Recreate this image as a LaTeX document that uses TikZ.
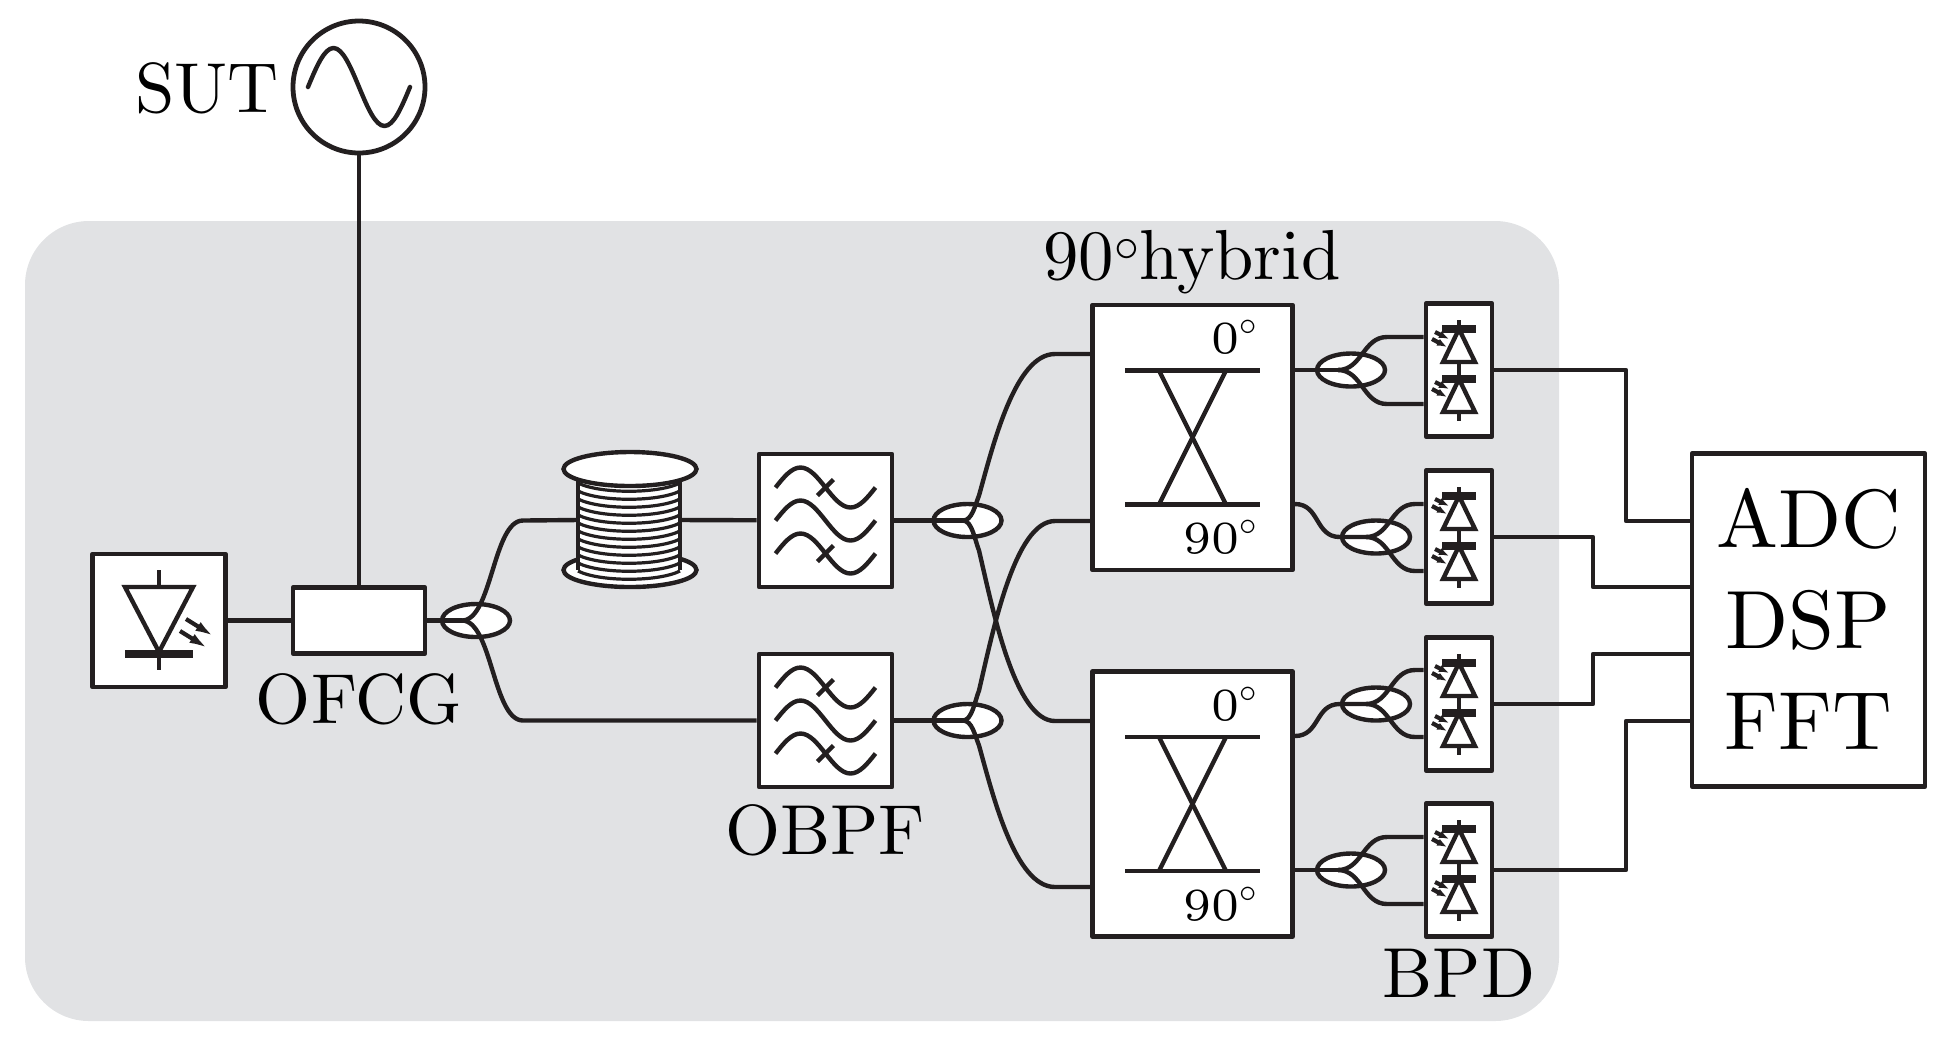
\documentclass[tikz,border=0pt]{standalone}
\usetikzlibrary{shapes.geometric,arrows.meta}
\definecolor{panelgray}{HTML}{E1E2E4}
\definecolor{ink}{HTML}{231F20}
\font\lblfont=cmr10 at 35.4pt
\font\smallfont=cmr6 at 23pt
\font\dspfont=cmr10 at 41.3pt
\newcommand{\sinecurve}{(-1,0) .. controls (-.837,-.512) and (-.681,-1) .. (-.5,-1) .. controls (-.319,-1) and (-.163,-.512) .. (0,0) .. controls (.163,.512) and (.319,1) .. (.5,1) .. controls (.681,1) and (.837,.512) .. (1,0)}
\tikzset{
  wire/.style={draw=ink,line width=2.2pt,line join=round},
  boxnode/.style={draw=ink,fill=white,line width=2.4pt,inner sep=0pt,line join=round},
  splitnode/.style={draw=ink,fill=white,line width=2.2pt,ellipse,inner sep=0pt,minimum width=34pt,minimum height=16.5pt},
  lbl/.style={text=black,inner sep=0pt,font=\fontsize{35.4}{40}\selectfont\lblfont},
  smalllbl/.style={text=black,inner sep=0pt,font=\fontsize{23}{26}\selectfont\smallfont},
  beam/.style={draw=ink,line width=2.1pt},
  pics/filterwaves/.style={code={
    \foreach \yy in {-33,0,33}{
      \draw[wire,shift={(0,\yy)},xscale=50,yscale=20] \sinecurve;
    }
    \draw[wire] (-8,-25) -- (8,-41);
    \draw[wire] (-8,41) -- (8,25);
  }},
  pics/bpddiode/.style={code={
    \draw[wire,fill=white,line join=miter] (0,0) -- (16,33) -- (-16,33) -- cycle;
    \fill[ink] (-17,-4) rectangle (17,4);
    \draw[beam,-{Latex[length=5pt,width=3.8pt]}] (-24,3) -- (-10,10);
    \draw[beam,-{Latex[length=5pt,width=3.8pt]}] (-27,10) -- (-12,18);
  }},
}
\begin{document}
\begin{tikzpicture}[x=0.5pt,y=-0.5pt]
\useasboundingbox (0,0) rectangle (1946,1046);
\fill[panelgray,rounded corners=32pt] (25,221) rectangle (1559,1021);

% --- nodes
\node[boxnode,circle,minimum size=66pt] (sut) at (359,87) {};
\draw[wire,line cap=round,shift={(359,87)},xscale=51,yscale=39] \sinecurve;
\node[lbl] (sutlabel) at (207,88) {SUT};

\node[boxnode,minimum width=66.5pt,minimum height=66.5pt] (laser) at (159,620.5) {};
\node[boxnode,minimum width=66pt,minimum height=33pt] (ofcg) at (359,620.5) {};
\node[lbl] (ofcglabel) at (359,699) {OFCG};
\node[splitnode] (s0) at (476,620.5) {};
\coordinate (j0) at (462,620.5);

% spool
\node[inner sep=0pt,minimum width=51pt,minimum height=50pt] (spool) at (629,520) {};
\node[splitnode,minimum width=66.5pt,minimum height=17pt] (spoolbottom) at (630,570) {};

\node[boxnode,minimum width=66.5pt,minimum height=66.5pt] (f1) at (825.5,520.5) {};
\node[boxnode,minimum width=66.5pt,minimum height=66.5pt] (f2) at (825.5,720.5) {};
\node[lbl] (obpflabel) at (825,830) {OBPF};
\node[splitnode] (s1) at (967.5,520.5) {};
\node[splitnode] (s2) at (967.5,720.5) {};
\coordinate (j1) at (963,520.5);
\coordinate (j2) at (963,720.5);

\node[boxnode,minimum width=100pt,minimum height=132.5pt] (h1) at (1192.5,437.5) {};
\node[boxnode,minimum width=100pt,minimum height=132.5pt] (h2) at (1192.5,804) {};
\node[lbl] (hyblabel) at (1192,262) {90$^\circ$hybrid};
\node[smalllbl,anchor=east] (h1a) at (1258,337) {0$^\circ$};
\node[smalllbl,anchor=east] (h1b) at (1258,537) {90$^\circ$};
\node[smalllbl,anchor=east] (h2a) at (1258,704) {0$^\circ$};
\node[smalllbl,anchor=east] (h2b) at (1258,904) {90$^\circ$};

\node[boxnode,minimum width=33pt,minimum height=66.5pt] (b1) at (1459,370) {};
\node[boxnode,minimum width=33pt,minimum height=66.5pt] (b2) at (1459,537) {};
\node[boxnode,minimum width=33pt,minimum height=66.5pt] (b3) at (1459,704) {};
\node[boxnode,minimum width=33pt,minimum height=66.5pt] (b4) at (1459,870) {};
\node[lbl] (bpdlabel) at (1459,973) {BPD};

\node[splitnode] (o1) at (1351,370) {};
\node[splitnode] (o2) at (1376,537) {};
\node[splitnode] (o3) at (1376,704) {};
\node[splitnode] (o4) at (1351,870) {};
\coordinate (k1) at (1338,370);
\coordinate (k2) at (1366,537);
\coordinate (k3) at (1366,704);
\coordinate (k4) at (1338,870);

\node[boxnode,minimum width=116.5pt,minimum height=166.5pt,align=center,font=\fontsize{41.3}{50.5}\selectfont\dspfont,text=black] (dsp) at (1808.5,620) {ADC\\DSP\\FFT};

% --- laser symbol
\draw[wire] (159,570) -- (159,670);
\draw[wire,fill=white,line join=miter] (125,587) -- (193,587) -- (159,652) -- cycle;
\fill[ink] (125,650) rectangle (193,658);
\foreach \dx/\dy in {0/0,-6/12}{
  \draw[beam,shift={(186+\dx,619+\dy)},-{Latex[length=10pt,width=5pt]}] (0,0) -- (29,18);
}

% --- spool body
\fill[white] (578,469) rectangle (680,570) .. controls (680,585) and (578,585) .. (578,570);
\foreach \yy in {483,491,...,571}{
  \draw[ink,line width=1.6pt] (578,\yy) .. controls (600,\yy+11) and (658,\yy+11) .. (680,\yy);
}
\draw[wire] (578,469) -- (578,570);
\draw[wire] (680,469) -- (680,570);
\node[splitnode,minimum width=66.5pt,minimum height=17pt] (spooltop) at (630,469) {};

% --- filter and detector symbols
\pic at (f1) {filterwaves};
\pic at (f2) {filterwaves};
\foreach \cy in {370,537,704,870}{
  \draw[wire] (1459,\cy-50) -- (1459,\cy+51);
  \pic at (1459,\cy-41) {bpddiode};
  \pic at (1459,\cy+9) {bpddiode};
}

% --- hybrid symbols
\foreach \cy in {437.5,804}{
  \draw[wire] (1125,\cy-67) -- (1260,\cy-67);
  \draw[wire] (1125,\cy+67) -- (1260,\cy+67);
  \draw[wire] (1159,\cy-67) -- (1226,\cy+67);
  \draw[wire] (1226,\cy-67) -- (1159,\cy+67);
}

% --- connectors
\draw[wire] (sut) -- (ofcg);
\draw[wire] (laser) -- (ofcg);
\draw[wire] (ofcg) -- (j0);
\draw[wire] (j0) .. controls +(30,0) and +(-30,0) .. (523,520.5) -- (spool.west);
\draw[wire] (j0) .. controls +(30,0) and +(-30,0) .. (523,720.5) -- (f2);
\draw[wire] (spool.east) -- (f1);
\draw[wire] (f1) -- (j1);
\draw[wire] (f2) -- (j2);
% long fans: upper splitter
\draw[wire] (j1) .. controls +(9,0) and +(-4,10) .. (979,495.5) .. controls (993,445.5) and (1015,354) .. (1055,354) -- (h1.west |- 0,354);
\draw[wire] (j1) .. controls +(9,0) and +(-4,-10) .. (979,550.5) .. controls (993,610.5) and (1015,721) .. (1055,721) -- (h2.west |- 0,721);
% long fans: lower splitter
\draw[wire] (j2) .. controls +(9,0) and +(-4,10) .. (979,690.5) .. controls (993,630.5) and (1015,521) .. (1055,521) -- (h1.west |- 0,521);
\draw[wire] (j2) .. controls +(9,0) and +(-4,-10) .. (979,745.5) .. controls (993,795.5) and (1015,887) .. (1055,887) -- (h2.west |- 0,887);

\draw[wire] (h1.east |- 0,370) -- (k1);
\draw[wire] (h2.east |- 0,870) -- (k4);
\draw[wire] (h1.east |- 0,504) .. controls +(25,0) and +(-25,0) .. (o2.west) -- (k2);
\draw[wire] (h2.east |- 0,736) .. controls +(25,0) and +(-25,0) .. (o3.west) -- (k3);

\draw[wire] (k1) .. controls +(24,0) and +(-24,0) .. (1387,337) -- (b1.west |- 0,337);
\draw[wire] (k1) .. controls +(24,0) and +(-24,0) .. (1387,404) -- (b1.west |- 0,404);
\draw[wire] (k2) .. controls +(24,0) and +(-24,0) .. (1415,504) -- (b2.west |- 0,504);
\draw[wire] (k2) .. controls +(24,0) and +(-24,0) .. (1415,571) -- (b2.west |- 0,571);
\draw[wire] (k3) .. controls +(24,0) and +(-24,0) .. (1415,670) -- (b3.west |- 0,670);
\draw[wire] (k3) .. controls +(24,0) and +(-24,0) .. (1415,737) -- (b3.west |- 0,737);
\draw[wire] (k4) .. controls +(24,0) and +(-24,0) .. (1387,837) -- (b4.west |- 0,837);
\draw[wire] (k4) .. controls +(24,0) and +(-24,0) .. (1387,904) -- (b4.west |- 0,904);

\draw[wire] (b1) -- (1626,370) -- (1626,521) -- (dsp.west |- 0,521);
\draw[wire] (b2) -- (1593,537) -- (1593,587) -- (dsp.west |- 0,587);
\draw[wire] (b3) -- (1593,704) -- (1593,654) -- (dsp.west |- 0,654);
\draw[wire] (b4) -- (1626,870) -- (1626,721) -- (dsp.west |- 0,721);
\end{tikzpicture}
\end{document}
